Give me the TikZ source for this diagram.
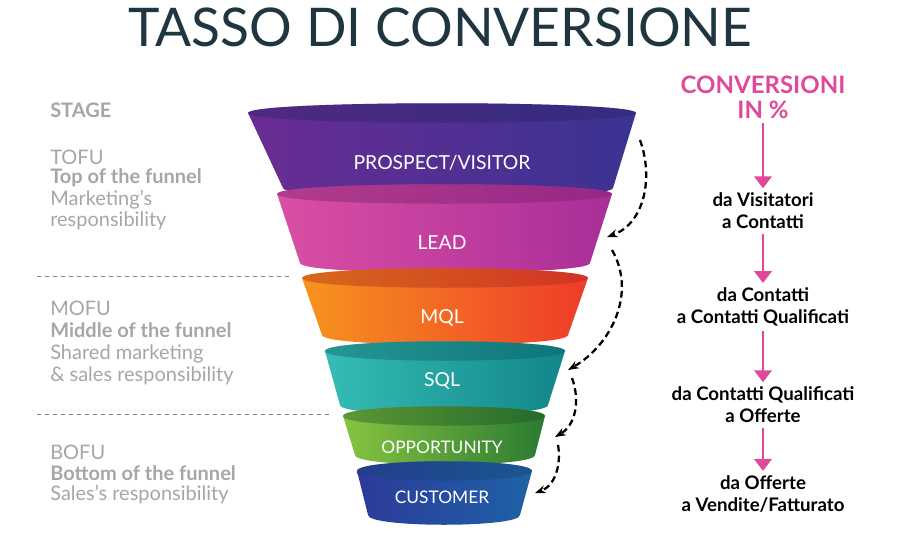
\documentclass[tikz,border=0pt]{standalone}
\usepackage{fontspec}
\setmainfont{Lato}
\usetikzlibrary{arrows.meta,positioning}
\definecolor{titlec}{HTML}{1F3640}
\definecolor{stagec}{HTML}{A6A6A6}
\definecolor{convc}{HTML}{E0489B}
\definecolor{prosL}{HTML}{6A2C93}
\definecolor{prosR}{HTML}{3A3392}
\definecolor{leadL}{HTML}{DA4FA5}
\definecolor{leadR}{HTML}{A92E98}
\definecolor{mqlL}{HTML}{F7941D}
\definecolor{mqlR}{HTML}{EE3B2A}
\definecolor{sqlL}{HTML}{35BDB5}
\definecolor{sqlR}{HTML}{12858A}
\definecolor{oppL}{HTML}{86C440}
\definecolor{oppR}{HTML}{2A7A32}
\definecolor{cusL}{HTML}{2D3A9A}
\definecolor{cusR}{HTML}{1E62A6}
% funnel band: top left x, top right x, top y, bottom left x, bottom right x, bottom y, left col, right col
\newcommand\band[8]{%
  \shade[left color=#7,right color=#8] (#1,#3) -- (#4,#6)
    .. controls (#4,#6+13) and (#5,#6+13) .. (#5,#6) -- (#2,#3)
    .. controls (#2,#3-13) and (#1,#3-13) .. cycle;
  \fill[#8!70!black,opacity=.4] (#1,#3) .. controls (#1,#3-13) and (#2,#3-13) .. (#2,#3)
    .. controls (#2,#3+13) and (#1,#3+13) .. cycle;}
\begin{document}
\begin{tikzpicture}[x=0.75pt,y=-0.75pt,
  stage/.style={anchor=west,inner sep=0pt,text=stagec,font=\fontsize{15}{17}\selectfont},
  stageb/.style={stage,font=\bfseries\fontsize{15}{17}\selectfont},
  lbl/.style={text=white,font=\fontsize{14.5}{16}\selectfont},
  conv/.style={align=center,font=\bfseries\fontsize{14}{16.5}\selectfont},
  flow/.style={-{Stealth[length=8pt]},line width=1.7pt,dash pattern=on 5pt off 3pt},
  convarrow/.style={-{Triangle[length=9pt,width=13pt]},line width=2.2pt,convc}]
\useasboundingbox (0,0) rectangle (904,554);
\node (title) at (440,27) {\fontsize{40}{44}\selectfont\color{titlec}TASSO DI CONVERSIONE};
% funnel
\band{248}{636}{113}{283}{613}{188}{prosL}{prosR}
\band{277}{612}{194}{300}{590}{263}{leadL}{leadR}
\band{302}{588}{278}{322}{568}{335}{mqlL}{mqlR}
\band{325}{565}{351}{340}{548}{405}{sqlL}{sqlR}
\band{343}{545}{416}{355}{535}{455}{oppL}{oppR}
\band{357}{532}{471}{368}{520}{515}{cusL}{cusR}
\node[lbl] (prospect) at (442,163) {PROSPECT/VISITOR};
\node[lbl] (lead) at (442,243) {LEAD};
\node[lbl] (mql) at (442,318) {MQL};
\node[lbl] (sql) at (442,381) {SQL};
\node[lbl,font=\fontsize{13}{15}\selectfont] (opp) at (442,447) {OPPORTUNITY};
\node[lbl,font=\fontsize{13}{15}\selectfont] (cust) at (442,497) {CUSTOMER};
\coordinate (p1) at (640,140);
\coordinate (p2) at (607,237);
\coordinate (p3) at (612,250);
\coordinate (p4) at (568,370);
\coordinate (p5) at (572,378);
\coordinate (p6) at (555,437);
\coordinate (p7) at (558,445);
\coordinate (p8) at (535,493);
\draw[flow] (p1) to[out=-70,in=20] (p2);
\draw[flow] (p3) to[out=-60,in=30] (p4);
\draw[flow] (p5) to[out=-70,in=30] (p6);
\draw[flow] (p7) to[out=-80,in=20] (p8);
% stages
\node[stageb] (stage) at (50,110) {STAGE};
\node[stage] (tofu) at (50,157) {TOFU};
\node[stageb] (tofub) at (50,178) {Top of the funnel};
\node[stage] (tofuc) at (50,200) {Marketing's};
\node[stage] (tofud) at (50,221) {responsibility};
\node[stage] (mofu) at (50,308) {MOFU};
\node[stageb] (mofub) at (50,330) {Middle of the funnel};
\node[stage] (mofuc) at (50,354) {Shared marketing};
\node[stage] (mofud) at (50,376) {\& sales responsibility};
\node[stage] (bofu) at (50,452) {BOFU};
\node[stageb] (bofub) at (50,473) {Bottom of the funnel};
\node[stage] (bofuc) at (50,495) {Sales's responsibility};
\coordinate (d1) at (37,276); \coordinate (d2) at (290,276);
\coordinate (d3) at (37,414); \coordinate (d4) at (330,414);
\draw[dashed,thin,gray] (d1) -- (d2);
\draw[dashed,thin,gray] (d3) -- (d4);
% conversions
\node[align=center,text=convc,font=\bfseries\fontsize{18}{19}\selectfont] (head) at (763,97) {CONVERSIONI\\IN \%};
\node[conv] (c1) at (763,211) {da Visitatori\\a Contatti};
\node[conv] (c2) at (763,307) {da Contatti\\a Contatti Qualificati};
\node[conv] (c3) at (763,405) {da Contatti Qualificati\\a Offerte};
\node[conv] (c4) at (763,494) {da Offerte\\a Vendite/Fatturato};
\draw[convarrow] (head) -- (c1);
\draw[convarrow] (c1) -- (c2);
\draw[convarrow] (c2) -- (c3);
\draw[convarrow] (c3) -- (c4);
\end{tikzpicture}
\end{document}
